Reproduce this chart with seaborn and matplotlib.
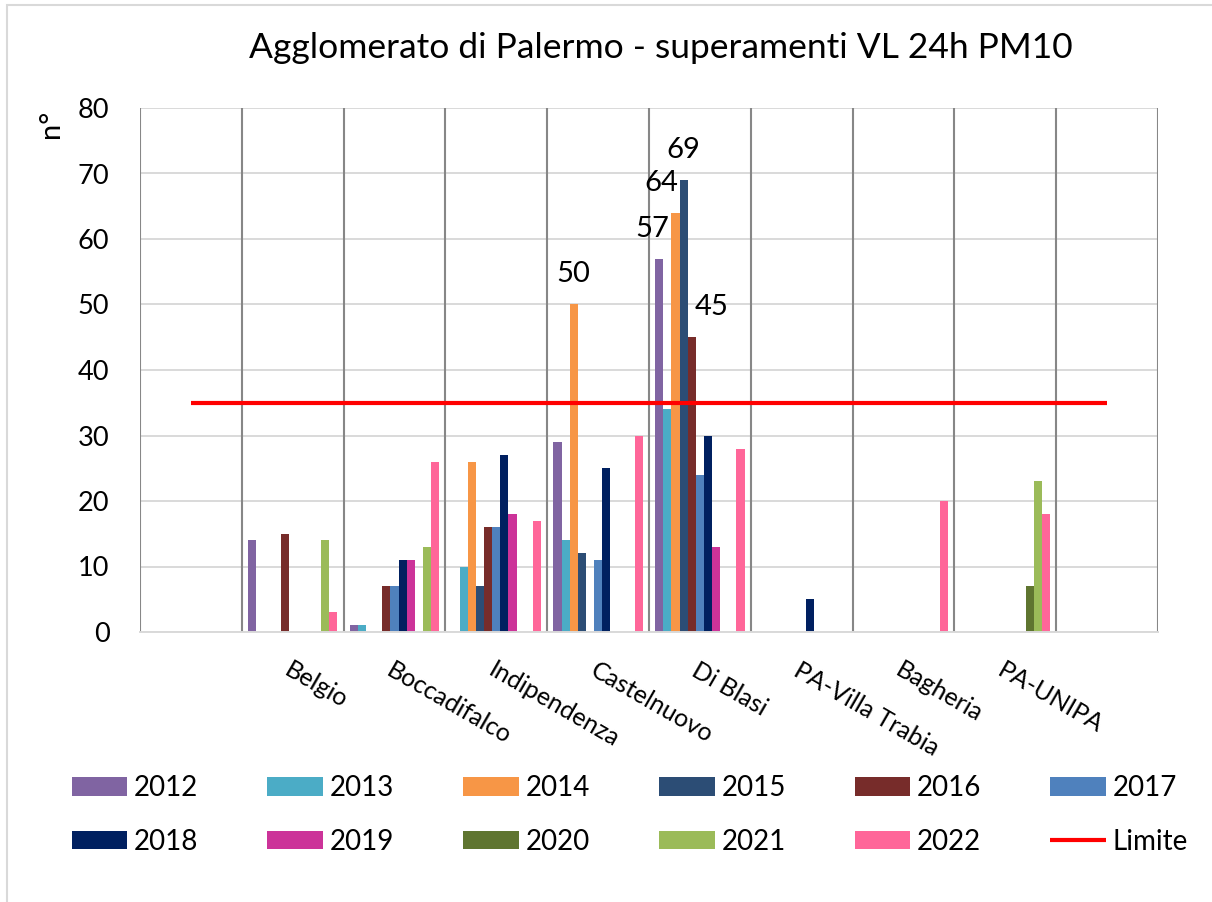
import numpy as np
import pandas as pd
import seaborn as sns
import matplotlib.pyplot as plt
from matplotlib.patches import Rectangle

nan = np.nan

# stations (first and last slots are empty in the original chart)
categories = ["", "Belgio", "Boccadifalco", "Indipendenza", "Castelnuovo",
              "Di Blasi", "PA-Villa Trabia", "Bagheria", "PA-UNIPA", " "]
years = ["2012", "2013", "2014", "2015", "2016", "2017",
         "2018", "2019", "2020", "2021", "2022"]

v2012 = [nan, 14, 1, nan, 29, 57, nan, nan, nan, nan]
v2013 = [nan, nan, 1, 10, 14, 34, nan, nan, nan, nan]
v2014 = [nan, nan, nan, 26, 50, 64, nan, nan, nan, nan]
v2015 = [nan, nan, nan, 7, 12, 69, nan, nan, nan, nan]
v2016 = [nan, 15, 7, 16, nan, 45, nan, nan, nan, nan]
v2017 = [nan, nan, 7, 16, 11, 24, nan, nan, nan, nan]
v2018 = [nan, nan, 11, 27, 25, 30, 5, nan, nan, nan]
v2019 = [nan, nan, 11, 18, nan, 13, nan, nan, nan, nan]
v2020 = [nan, nan, nan, nan, nan, nan, nan, nan, 7, nan]
v2021 = [nan, 14, 13, nan, nan, nan, nan, nan, 23, nan]
v2022 = [nan, 3, 26, 17, 30, 28, nan, 20, 18, nan]
limite = [35, 35, 35, 35, 35, 35, 35, 35, 35, 35]

colors = ["#8064A2", "#4BACC6", "#F79646", "#2C4D75", "#772C2A", "#4F81BD",
          "#002060", "#CC3399", "#5F7530", "#9BBB59", "#FF6699"]

# horizontal nudges (pixels) for the value labels, as placed in the original
label_nudge = {("2012", "Di Blasi"): -7, ("2014", "Di Blasi"): -14,
               ("2016", "Di Blasi"): 20}

series = [v2012, v2013, v2014, v2015, v2016, v2017,
          v2018, v2019, v2020, v2021, v2022]
df = pd.DataFrame([(c, y, v) for y, vals in zip(years, series)
                   for c, v in zip(categories, vals)],
                  columns=["stazione", "anno", "n"]).dropna()

plt.rcParams["font.family"] = ["Lato", "DejaVu Sans"]

fig = plt.figure(figsize=(12.12, 9.02), dpi=100)
ax = fig.add_axes([140 / 1212, 1 - 632 / 902, 1018 / 1212, 524 / 902])

sns.barplot(data=df, x="stazione", y="n", hue="anno", order=categories,
            hue_order=years, palette=colors, width=0.877, gap=0,
            errorbar=None, saturation=1, linewidth=0, ax=ax)

xs = np.arange(len(categories))
ax.plot(xs, limite, color="#FF0000", lw=3, label="Limite", zorder=4,
        solid_capstyle="butt")

# value labels on bars above the limit
for year, cont in zip(years, ax.containers):
    for bar in cont:
        h = bar.get_height()
        xc = bar.get_x() + bar.get_width() / 2
        i = int(round(xc))
        if h > limite[i]:
            ax.annotate(f"{h:.0f}", (xc, h),
                        xytext=(label_nudge.get((year, categories[i]), 0), 30),
                        textcoords="offset pixels", ha="center", va="center",
                        fontsize=21, zorder=5)

ax.set_xlim(-0.5, len(categories) - 0.5)
ax.set_ylim(0, 80)
ax.set_yticks(range(0, 81, 10))
ax.grid(axis="y", color="#D9D9D9", lw=1.4)
ax.set_axisbelow(True)
for b in np.arange(-0.5, len(categories), 1.0):
    ax.axvline(b, color="#878787", lw=1.5, zorder=0.8)
for s in ["top", "right", "left"]:
    ax.spines[s].set_visible(False)
ax.spines["bottom"].set_color("#D9D9D9")
ax.spines["bottom"].set_linewidth(1.4)

ax.tick_params(axis="y", length=0, pad=22, labelsize=19.5)
ax.tick_params(axis="x", length=0, pad=19, labelsize=18)
ax.set_xticks(xs)
ax.set_xticklabels(categories, rotation=-30, ha="left", va="top",
                   rotation_mode="anchor")
ax.set_xlabel("")
ax.set_ylabel("")

fig.text(51 / 1212, 1 - 124 / 902, "n°", rotation=90, ha="center",
         va="center", fontsize=21)
fig.text(661 / 1212, 1 - 48 / 902,
         "Agglomerato di Palermo - superamenti VL 24h PM10",
         ha="center", va="center", fontsize=25.5)

# legend filled row by row (matplotlib fills by column)
handles, labels = ax.get_legend_handles_labels()
ax.get_legend().remove()
order = [0, 6, 1, 7, 2, 8, 3, 9, 4, 10, 5, 11]
fig.legend([handles[i] for i in order], [labels[i] for i in order],
           ncol=6, loc="center", bbox_to_anchor=(630 / 1212, 1 - 815 / 902),
           frameon=False, fontsize=20, handlelength=2.0, handleheight=0.65,
           handletextpad=0.25, columnspacing=2.48, labelspacing=1.0)

# chart border (only left/top visible in the crop)
fig.patches.append(Rectangle((7 / 1212, -0.1), 1.2, 1 - 5 / 902 + 0.1,
                             transform=fig.transFigure, fill=False,
                             edgecolor="#D9D9D9", lw=1.5))

fig.savefig("out.png", dpi=100)
